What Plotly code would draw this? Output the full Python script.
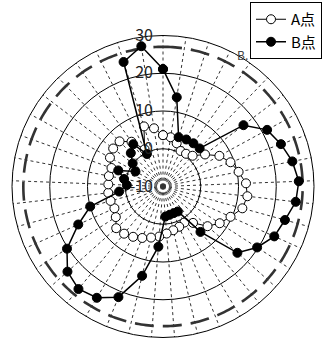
import numpy as np
import plotly.graph_objects as go

# 41 equally spaced directions, 0 at north, clockwise
n_dir = 41
theta = [k * 360.0 / n_dir for k in range(n_dir)]

a_values = [3.6, 3.2, 2.0, 0.5, 0.6, 1.3, 4.0, 7.0, 9.0, 10.4,
            12.0, 12.5, 11.8, 9.6, 7.9, 5.8, 2.5, 1.1, 1.5, 1.9,
            2.5, 3.3, 3.9, 4.7, 5.5, 6.2, 6.6, 4.9, 4.1, 4.4,
            4.6, 4.5, 4.6, 4.5, 6.0, 6.6, 6.6, 4.5, 1.0, 6.7, 5.6]

b_values = [21.1, 13.9, 3.7, 3.9, 4.0, 4.0, 16.8, 21.4, 23.2, 24.9,
            26.0, 25.4, 23.5, 22.3, 19.7, 16.4, 5.6, -2.3, -2.4, -2.3,
            -2.0, 6.0, 14.3, 21.6, 24.3, 25.2, 23.9, 20.3, 14.6, 10.0,
            1.7, -0.4, 0.5, 2.6, -1.7, 0.1, 2.3, 3.7, -0.4, 24.6, 27.6]

r_ticks = [-10, 0, 10, 20, 30]
r_tick_text = ["-10", "0", "10", "20", "30"]
limit_r = 27.0

def closed(seq):
    return list(seq) + [seq[0]]

fig = go.Figure()

# dashed reference circle
ring_theta = np.linspace(0, 360, 361)
fig.add_trace(go.Scatterpolar(
    r=[limit_r] * len(ring_theta), theta=ring_theta, mode="lines",
    line=dict(color="#333333", width=2.6, dash="19px,9px"),
    showlegend=False, hoverinfo="skip"))

fig.add_trace(go.Scatterpolar(
    r=closed(a_values), theta=closed(theta), mode="lines+markers", name="A点",
    line=dict(color="black", width=1),
    marker=dict(symbol="circle", size=9, color="white",
                line=dict(color="black", width=1))))

fig.add_trace(go.Scatterpolar(
    r=closed(b_values), theta=closed(theta), mode="lines+markers", name="B点",
    line=dict(color="black", width=1.5),
    marker=dict(symbol="circle", size=9, color="black",
                line=dict(color="black", width=1))))

W, H = 336, 342
cx, cy, rad = 163, 186.5, 151

fig.update_layout(
    width=W, height=H,
    margin=dict(l=0, r=0, t=0, b=0),
    paper_bgcolor="white",
    font=dict(family="Liberation Sans Narrow, Noto Sans CJK JP, sans-serif", color="#222222"),
    polar=dict(
        domain=dict(x=[(cx - rad) / W, (cx + rad) / W],
                    y=[(H - cy - rad) / H, (H - cy + rad) / H]),
        bgcolor="white",
        radialaxis=dict(range=[-10, 30], tickmode="array", tickvals=r_ticks,
                        ticktext=[t + "\u00a0\u00a0" for t in r_tick_text],
                        angle=90, tickangle=90,
                        side="counterclockwise",
                        showline=False, ticks="", gridcolor="black",
                        gridwidth=1, tickfont=dict(size=16, color="#222222")),
        angularaxis=dict(rotation=90, direction="clockwise", tickmode="array",
                         tickvals=theta, showticklabels=False, ticks="",
                         gridcolor="#333333", griddash="dot", gridwidth=1,
                         showline=True, linecolor="black", linewidth=1),
    ),
    legend=dict(x=250 / W, y=1 - 2 / H, xanchor="left", yanchor="top",
                bgcolor="white", bordercolor="black", borderwidth=1,
                font=dict(size=15, family="Noto Sans CJK JP, sans-serif", color="black"),
                tracegroupgap=0, itemsizing="trace"),
    annotations=[dict(text="B.", x=250 / W, y=1 - 44 / H, xref="paper", yref="paper",
                      showarrow=False, font=dict(size=12, color="#444444"))],
)

fig.write_html("out.html")
